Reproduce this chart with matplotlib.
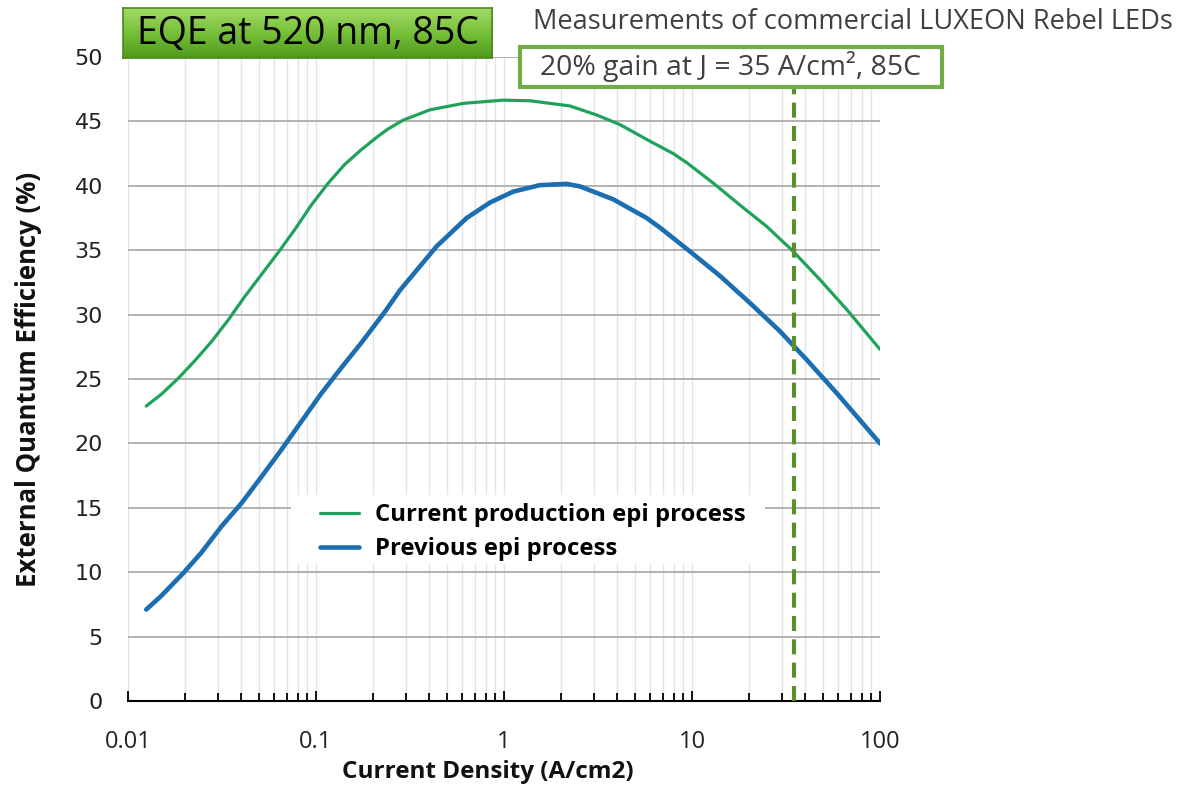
import matplotlib
matplotlib.use("Agg")
import matplotlib.pyplot as plt
import numpy as np
from matplotlib.ticker import LogLocator, FixedLocator, NullFormatter, FixedFormatter
from matplotlib.colors import LinearSegmentedColormap
from matplotlib.patches import Rectangle

# ---------------- data ----------------
x_current = [0.0125, 0.0150, 0.0185, 0.0226, 0.0278, 0.0340, 0.0418, 0.0512,
             0.0628, 0.0771, 0.0944, 0.116, 0.142, 0.174, 0.214, 0.241, 0.291,
             0.404, 0.608, 0.99, 1.38, 2.24, 3.11, 4.14, 5.74, 7.95, 9.37,
             13.0, 18.0, 24.95, 34.6, 48.0, 66.5, 100]
eqe_current = [22.9, 23.8, 25.05, 26.4, 27.9, 29.55, 31.4, 33.1,
               34.8, 36.6, 38.5, 40.2, 41.65, 42.8, 43.85, 44.4, 45.1,
               45.9, 46.4, 46.65, 46.6, 46.2, 45.5, 44.75, 43.6, 42.5, 41.8,
               40.2, 38.5, 36.85, 34.9, 32.7, 30.4, 27.3]

x_previous = [0.0125, 0.0150, 0.0196, 0.0245, 0.0314, 0.0401, 0.0512, 0.0654,
              0.0836, 0.107, 0.136, 0.174, 0.232, 0.28, 0.438, 0.633, 0.842,
              1.12, 1.55, 2.16, 2.54, 3.81, 5.74, 6.76, 9.76, 14.1, 20.35,
              29.4, 40.7, 58.9, 100]
eqe_previous = [7.1, 8.15, 9.9, 11.5, 13.55, 15.35, 17.4, 19.5,
                21.7, 23.9, 25.85, 27.8, 30.2, 31.9, 35.3, 37.5, 38.7,
                39.55, 40.05, 40.15, 39.95, 38.95, 37.5, 36.75, 34.9, 33.0, 30.9,
                28.7, 26.5, 23.9, 20.0]

series_names = ["Current production epi process", "Previous epi process"]
marker_j = 35
x_ticks = [0.01, 0.1, 1, 10, 100]
x_tick_labels = ["0.01", "0.1", "1", "10", "100"]
y_ticks = [0, 5, 10, 15, 20, 25, 30, 35, 40, 45, 50]

title_text = "EQE at 520 nm, 85C"
note_text = "Measurements of commercial LUXEON Rebel LEDs"
box_text = "20% gain at J = 35 A/cm², 85C"

# ---------------- figure ----------------
W, H = 1182, 787
fig = plt.figure(figsize=(W / 100, H / 100), dpi=100)
fig.patch.set_facecolor("white")

def fx(px):
    return px / W

def fy(py):
    return 1 - py / H

ax = fig.add_axes([fx(128), fy(701), fx(880) - fx(128), fy(57) - fy(701)])
ax.set_xscale("log")
ax.set_xlim(0.01, 100)
ax.set_ylim(0, 50)

ax.set_yticks(y_ticks)
ax.set_yticklabels([str(v) for v in y_ticks])
ax.xaxis.set_major_locator(FixedLocator(x_ticks))
ax.xaxis.set_major_formatter(FixedFormatter(x_tick_labels))
ax.xaxis.set_minor_locator(LogLocator(base=10, subs=np.arange(2, 10)))
ax.xaxis.set_minor_formatter(NullFormatter())

ax.grid(axis="y", which="major", color="#a6a6a6", linewidth=1.2, zorder=0)
ax.grid(axis="x", which="both", color="#e4e4e4", linewidth=1.0, zorder=0)
ax.set_axisbelow(True)

for s in ["top", "right", "left"]:
    ax.spines[s].set_visible(False)
ax.spines["bottom"].set_color("black")
ax.spines["bottom"].set_linewidth(1.5)

ax.tick_params(axis="y", length=0, pad=18, labelsize=16, labelcolor="#222222")
ax.tick_params(axis="x", which="major", direction="in", length=7, width=1.3,
               pad=21, labelsize=17, labelcolor="#222222")
ax.tick_params(axis="x", which="minor", direction="in", length=6, width=1.3)
for lab in ax.get_yticklabels():
    lab.set_fontfamily("DejaVu Sans")
for lab in ax.get_xticklabels():
    lab.set_fontfamily("Open Sans")

ax.set_xlabel("Current Density (A/cm2)", fontsize=17.5, fontweight="bold",
              family="Open Sans", color="#111111")
ax.xaxis.set_label_coords((488 - 128) / 752, (701 - 760) / 644)
ax.set_ylabel("External Quantum Efficiency (%)", fontsize=18.5, fontweight="bold",
              family="Open Sans", color="#111111")
ax.yaxis.set_label_coords((42 - 128) / 752, 0.5)

# curves
ax.plot(x_current, eqe_current, color="#1fa35a", linewidth=2.3,
        label=series_names[0], zorder=3, solid_capstyle="round",
        solid_joinstyle="round")
ax.plot(x_previous, eqe_previous, color="#1b6eb0", linewidth=3.3,
        label=series_names[1], zorder=3, solid_capstyle="round",
        solid_joinstyle="round")

# dashed marker line
ax.plot([marker_j, marker_j], [0, 47.6], color="#5b8f2c", linewidth=3,
        dashes=(3.6, 2.0), zorder=4, clip_on=False)

# legend background + legend
ax.add_patch(Rectangle((fx(291), fy(564)), fx(765) - fx(291), fy(495) - fy(564),
                       transform=fig.transFigure, facecolor="white",
                       edgecolor="none", zorder=2))
leg = ax.legend(loc="upper left", bbox_to_anchor=(fx(320), fy(503)),
                bbox_transform=fig.transFigure, frameon=False,
                handlelength=1.65, handletextpad=0.65, borderpad=0,
                borderaxespad=0, labelspacing=0.43,
                prop={"family": "Open Sans", "weight": "bold", "size": 17.2})
leg.set_zorder(5)

# title box with gradient
tax = fig.add_axes([fx(123), fy(58), fx(492) - fx(123), fy(8) - fy(58)])
grad = np.linspace(0, 1, 100).reshape(-1, 1)
cmap = LinearSegmentedColormap.from_list("g", ["#a2da66", "#76c03a", "#4f9a1b"])
tax.imshow(grad, aspect="auto", cmap=cmap, extent=[0, 1, 0, 1], origin="upper")
tax.set_xlim(0, 1)
tax.set_ylim(0, 1)
tax.set_xticks([])
tax.set_yticks([])
for s in tax.spines.values():
    s.set_color("#4a8a1e")
    s.set_linewidth(1.2)
tax.text(0.5, 0.47, title_text, ha="center", va="center", fontsize=27,
         family="Open Sans", color="black")

# top-right notes
fig.text(fx(533), fy(22), note_text, ha="left", va="center", fontsize=19.6,
         family="Open Sans", color="#404040")
fig.patches.append(Rectangle((fx(520), fy(87)), fx(942) - fx(520), fy(47) - fy(87),
                             transform=fig.transFigure, facecolor="white",
                             edgecolor="#70ad47", linewidth=3, zorder=3))
fig.text(fx(731), fy(67), box_text, ha="center", va="center", fontsize=20.4,
         family="Open Sans", color="#404040", zorder=4)

fig.savefig("out.png", dpi=100, facecolor="white")
